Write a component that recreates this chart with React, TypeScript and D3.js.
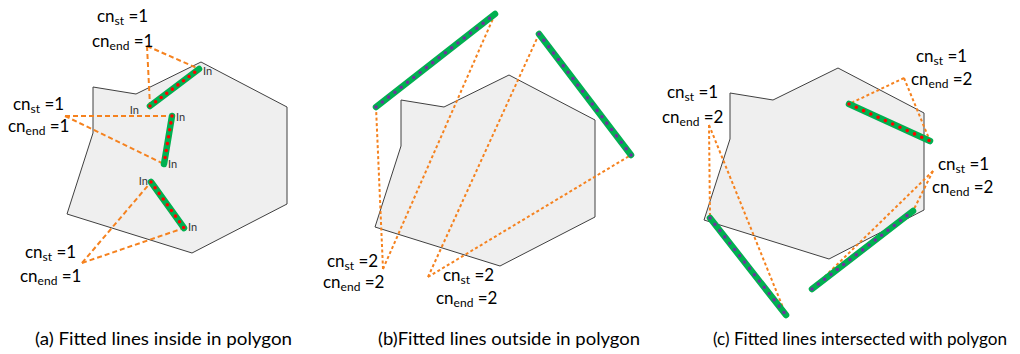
import * as d3 from 'd3';

// hexagon-like polygon, in panel (a) coordinates
const polygon: [number, number][] = [
  [93, 87], [136, 94], [201, 62], [287, 107], [287, 204], [192, 253], [67, 214], [93, 133],
];

// shift of the polygon for each panel
const panelShift: [number, number][] = [[0, 0], [308, 13], [637, 6]];

// fitted segments: panel, start, end, dot colour
const segPanel = [0, 0, 0, 1, 1, 2, 2, 2];
const segStart: [number, number][] = [[150, 106], [172, 116], [151, 182], [376, 107], [539, 34], [849, 104], [710, 218], [812, 289]];
const segEnd: [number, number][] = [[199, 69], [164, 164], [184, 228], [495, 14], [631, 155], [930, 141], [786, 315], [913, 211]];
const segDot = ['red', 'red', 'red', 'purple', 'purple', 'red', 'purple', 'purple'];

// connector apex (where label sits), one per segment
const apex: [number, number][] = [[147, 46], [65, 116], [82, 263], [383, 269], [428, 277], [904, 78], [709, 125], [933, 171]];

// counter labels: x, baseline y, value
const labelX = [97, 13, 25, 327, 443, 916, 667, 938];
const labelY = [22, 110, 258, 267, 281, 62, 98, 170];
const labelEndX = [92, 8, 20, 323, 436, 911, 662, 932];
const labelEndY = [47, 132, 282, 288, 304, 85, 123, 193];
const stVal = ['1', '1', '1', '2', '2', '1', '1', '1'];
const endVal = ['1', '1', '1', '2', '2', '2', '2', '2'];

// "In" tags for panel (a)
const inTags: [number, number, string][] = [
  [139, 114, 'end'], [203, 75, 'start'], [176, 121, 'start'], [168, 168, 'start'], [148, 185, 'end'], [188, 231, 'start'],
];

const captions = ['(a) Fitted lines inside in polygon', '(b)Fitted lines outside in polygon', '(c) Fitted lines intersected with polygon'];
const captionX = [35, 378, 713];
const captionW = [257, 262, 294];

const FONT = 'Lato, Carlito, Calibri, sans-serif';
const ORANGE = '#f5821f';
const GREEN = '#00b050';
const DOTS: Record<string, string> = { red: '#ff0000', purple: '#7030a0' };

export default function App() {
  const line = d3.line();

  return (
    <svg width={1020} height={354} style={{ position: 'absolute', left: 0, top: 0, background: '#fff' }}>
      {panelShift.map(([dx, dy], i) => (
        <path
          key={'p' + i}
          d={line(polygon.map(([x, y]) => [x + dx, y + dy]) as [number, number][])! + 'Z'}
          fill="#efefef"
          stroke="#404040"
          strokeWidth={1}
        />
      ))}

      {/* dashed connectors */}
      {apex.map((a, i) => {
        const dash = segPanel[i] === 0 ? '5 3' : '3 2.5';
        return (
          <g key={'c' + i} stroke={ORANGE} strokeWidth={2} strokeDasharray={dash} fill="none">
            <path d={line([a, segStart[i]])!} />
            <path d={line([a, segEnd[i]])!} />
          </g>
        );
      })}

      {/* fitted lines */}
      {segStart.map((s, i) => (
        <g key={'s' + i}>
          <path d={line([s, segEnd[i]])!} stroke={GREEN} strokeWidth={6.5} strokeLinecap="round" />
          <path
            d={line([s, segEnd[i]])!}
            stroke={DOTS[segDot[i]]}
            strokeWidth={3.6}
            strokeLinecap="round"
            strokeDasharray={segPanel[i] === 0 ? '0 7' : '0 8'}
          />
        </g>
      ))}

      {inTags.map(([x, y, anchor], i) => (
        <text key={'in' + i} x={x} y={y} fontSize={11} fill="#333" fontFamily={FONT} textAnchor={anchor}>
          In
        </text>
      ))}

      {labelX.map((x, i) => (
        <g key={'l' + i} fontFamily={FONT} fontSize={17} fill="#000">
          <text x={x} y={labelY[i]}>
            cn<tspan fontSize={12} dy={3}>st</tspan>
            <tspan dy={-3}> ={stVal[i]}</tspan>
          </text>
          <text x={labelEndX[i]} y={labelEndY[i]}>
            cn<tspan fontSize={12} dy={3}>end</tspan>
            <tspan dy={-3}> ={endVal[i]}</tspan>
          </text>
        </g>
      ))}

      {captions.map((c, i) => (
        <text
          key={'cap' + i}
          x={captionX[i]}
          y={345}
          fontFamily={FONT}
          fontSize={17}
          fill="#000"
          textLength={captionW[i]}
          lengthAdjust="spacingAndGlyphs"
        >
          {c}
        </text>
      ))}
    </svg>
  );
}
